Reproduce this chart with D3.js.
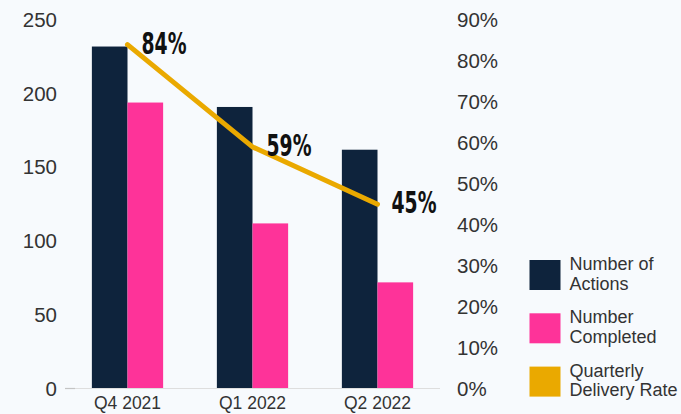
<!DOCTYPE html>
<html>
<head>
<meta charset="utf-8">
<script src="https://cdn.jsdelivr.net/npm/d3@7"></script>
<style>
  html, body { margin: 0; padding: 0; background: #f7fafd; }
  svg { display: block; }
</style>
</head>
<body>
<svg id="chart" width="681" height="414"></svg>
<script>
const categories = ["Q4 2021", "Q1 2022", "Q2 2022"];
const actions = [232, 191, 162];
const completed = [194, 112, 72];
const rates = [0.84, 0.59, 0.45];
const leftTicks = [0, 50, 100, 150, 200, 250];
const rightTicks = [0, 0.1, 0.2, 0.3, 0.4, 0.5, 0.6, 0.7, 0.8, 0.9];
const legendItems = [
  { lines: ["Number of", "Actions"], color: "#0e233c" },
  { lines: ["Number", "Completed"], color: "#fe3399" },
  { lines: ["Quarterly", "Delivery Rate"], color: "#eaa900" }
];

const svg = d3.select("#chart");
const W = 681, H = 414;
svg.append("rect").attr("width", W).attr("height", H).attr("fill", "#f7fafd");

const x = d3.scaleBand().domain(categories).range([65, 440]).paddingInner(0.43).paddingOuter(0.215);
const x1 = d3.scaleBand().domain(["a", "c"]).range([0, x.bandwidth()]);
const yL = d3.scaleLinear().domain([0, 250]).range([388.5, 20]);
const yR = d3.scaleLinear().domain([0, 0.9]).range([388.5, 20]);

const fontFam = "'Liberation Sans', Arial, sans-serif";

// bars
const g = svg.append("g");
categories.forEach((c, i) => {
  g.append("rect")
    .attr("x", x(c) + x1("a"))
    .attr("y", yL(actions[i]))
    .attr("width", x1.bandwidth())
    .attr("height", yL(0) - yL(actions[i]))
    .attr("fill", "#0e233c");
  g.append("rect")
    .attr("x", x(c) + x1("c"))
    .attr("y", yL(completed[i]))
    .attr("width", x1.bandwidth())
    .attr("height", yL(0) - yL(completed[i]))
    .attr("fill", "#fe3399");
});

// baseline
svg.append("line")
  .attr("x1", 65).attr("x2", 440)
  .attr("y1", yL(0)).attr("y2", yL(0))
  .attr("stroke", "#dedede").attr("stroke-width", 1.2);
svg.append("line")
  .attr("x1", 65).attr("x2", 75)
  .attr("y1", yL(0)).attr("y2", yL(0))
  .attr("stroke", "#c4c4c4").attr("stroke-width", 1.2);

// left axis labels
const leftAxis = d3.axisLeft(yL).tickValues(leftTicks).tickSize(0).tickPadding(0);
const gl = svg.append("g").attr("transform", "translate(57,0)").call(leftAxis);
gl.select(".domain").remove();
gl.selectAll("text").attr("font-family", fontFam).attr("font-size", "20.5px").attr("fill", "#333");

// right axis labels
const rightAxis = d3.axisRight(yR).tickValues(rightTicks).tickFormat(d3.format(".0%")).tickSize(0).tickPadding(0);
const gr = svg.append("g").attr("transform", "translate(457,0)").call(rightAxis);
gr.select(".domain").remove();
gr.selectAll("text").attr("font-family", fontFam).attr("font-size", "20.5px").attr("fill", "#333");

// x axis labels
const xAxis = d3.axisBottom(x).tickSize(0).tickPadding(0);
const gx = svg.append("g").attr("transform", "translate(0,408.5)").call(xAxis);
gx.select(".domain").remove();
gx.selectAll("text").attr("font-family", fontFam).attr("font-size", "17.5px").attr("fill", "#333").attr("dy", 0);

// line
const pts = categories.map((c, i) => [x(c) + x.bandwidth() / 2, yR(rates[i])]);
svg.append("path")
  .attr("d", d3.line()(pts))
  .attr("fill", "none")
  .attr("stroke", "#eaa900")
  .attr("stroke-width", 5)
  .attr("stroke-linecap", "round")
  .attr("stroke-linejoin", "round");

// rate labels
pts.forEach((p, i) => {
  svg.append("text")
    .attr("x", p[0] + 14)
    .attr("y", p[1] + 9)
    .attr("font-family", "'Liberation Sans Narrow', 'DejaVu Sans Condensed', sans-serif")
    .attr("font-weight", "bold")
    .attr("font-size", "30px")
    .attr("textLength", 45)
    .attr("lengthAdjust", "spacingAndGlyphs")
    .attr("fill", "#111")
    .text(d3.format(".0%")(rates[i]));
});

// legend
const lg = svg.append("g");
legendItems.forEach((item, i) => {
  const top = 260 + i * 53.3;
  lg.append("rect")
    .attr("x", 529.5).attr("y", top)
    .attr("width", 31).attr("height", 30)
    .attr("fill", item.color);
  item.lines.forEach((ln, j) => {
    lg.append("text")
      .attr("x", 569.5)
      .attr("y", top + 10 + j * 19.5)
      .attr("font-family", fontFam)
      .attr("font-size", "18px")
      .attr("fill", "#333")
      .text(ln);
  });
});
</script>
</body>
</html>
